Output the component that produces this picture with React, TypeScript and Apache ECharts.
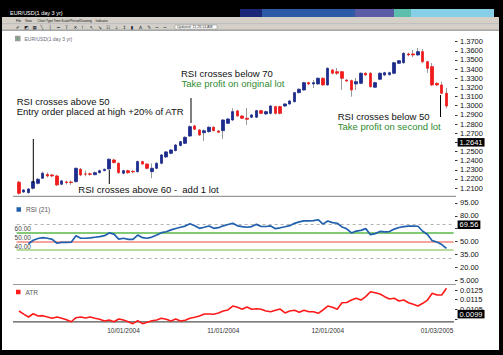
import React, { useEffect, useRef } from 'react';
import * as echarts from 'echarts';

const FONT = 'Liberation Sans, Arial, Helvetica, sans-serif';

// ---------- categories ----------
function weekdayLabels(y: number, m: number, d: number, n: number): string[] {
  const out: string[] = [];
  const dt = new Date(Date.UTC(y, m - 1, d));
  while (out.length < n) {
    const wd = dt.getUTCDay();
    if (wd !== 0 && wd !== 6) {
      const mm = String(dt.getUTCMonth() + 1).padStart(2, '0');
      const dd = String(dt.getUTCDate()).padStart(2, '0');
      out.push(`${mm}/${dd}/${dt.getUTCFullYear()}`);
    }
    dt.setUTCDate(dt.getUTCDate() + 1);
  }
  return out;
}
const dates = weekdayLabels(2004, 9, 1, 92);
const xTickLabels = ['10/01/2004', '11/01/2004', '12/01/2004', '01/03/2005'];

// ---------- price (EUR/USD) ----------
const opens = [
  1.2164, 1.2057, 1.2050, 1.2098, 1.2152, 1.2207, 1.2249, 1.2243, 1.2232, 1.2142,
  1.2167, 1.2166, 1.2170, 1.2305, 1.2255, 1.2256, 1.2246, 1.2268, 1.2290, 1.2309,
  1.2407, 1.2371, 1.2262, 1.2290, 1.2282, 1.2279, 1.2389, 1.2363, 1.2279, 1.2316,
  1.2371, 1.2440, 1.2480, 1.2510, 1.2565, 1.2589, 1.2669, 1.2779, 1.2735, 1.2705,
  1.2717, 1.2765, 1.2724, 1.2727, 1.2808, 1.2844, 1.2943, 1.2888, 1.2863, 1.2874,
  1.2874, 1.2946, 1.2910, 1.2917, 1.2990, 1.2990, 1.2997, 1.3019, 1.3044, 1.3143,
  1.3172, 1.3252, 1.3238, 1.3238, 1.3300, 1.3227, 1.3391, 1.3372, 1.3372, 1.3281,
  1.3274, 1.3238, 1.3245, 1.3355, 1.3355, 1.3202, 1.3289, 1.3336, 1.3340, 1.3355,
  1.3464, 1.3470, 1.3566, 1.3566, 1.3555, 1.3591, 1.3481, 1.3427, 1.3245, 1.3227,
  1.3136,
];
const closes = [
  1.2043, 1.2079, 1.2090, 1.2170, 1.2196, 1.2262, 1.2232, 1.2232, 1.2134, 1.2178,
  1.2160, 1.2160, 1.2316, 1.2243, 1.2252, 1.2250, 1.2268, 1.2290, 1.2305, 1.2415,
  1.2378, 1.2268, 1.2290, 1.2268, 1.2277, 1.2389, 1.2363, 1.2316, 1.2316, 1.2371,
  1.2462, 1.2495, 1.2516, 1.2571, 1.2607, 1.2655, 1.2771, 1.2743, 1.2680, 1.2727,
  1.2765, 1.2727, 1.2710, 1.2844, 1.2855, 1.2935, 1.2888, 1.2863, 1.2852, 1.2899,
  1.2946, 1.2917, 1.2935, 1.2997, 1.2917, 1.2917, 1.3019, 1.3052, 1.3143, 1.3180,
  1.3252, 1.3238, 1.3252, 1.3300, 1.3227, 1.3409, 1.3355, 1.3355, 1.3300, 1.3270,
  1.3172, 1.3263, 1.3355, 1.3336, 1.3208, 1.3252, 1.3355, 1.3361, 1.3361, 1.3470,
  1.3492, 1.3573, 1.3555, 1.3555, 1.3591, 1.3481, 1.3409, 1.3227, 1.3227, 1.3136,
  1.2997,
];
const lows = [
  1.2028, 1.2045, 1.2040, 1.2085, 1.2140, 1.2200, 1.2215, 1.2220, 1.2125, 1.2130,
  1.2140, 1.2135, 1.2160, 1.2230, 1.2230, 1.2235, 1.2240, 1.2260, 1.2285, 1.2300,
  1.2370, 1.2255, 1.2250, 1.2255, 1.2260, 1.2270, 1.2355, 1.2305, 1.2207, 1.2305,
  1.2360, 1.2430, 1.2470, 1.2500, 1.2555, 1.2580, 1.2660, 1.2735, 1.2670, 1.2615,
  1.2705, 1.2720, 1.2700, 1.2637, 1.2800, 1.2835, 1.2880, 1.2855, 1.2790, 1.2865,
  1.2865, 1.2910, 1.2900, 1.2905, 1.2905, 1.2905, 1.2985, 1.3010, 1.3035, 1.3135,
  1.3165, 1.3225, 1.3194, 1.3230, 1.3220, 1.3220, 1.3345, 1.3336, 1.3172, 1.3260,
  1.3099, 1.3172, 1.3235, 1.3325, 1.3200, 1.3195, 1.3280, 1.3325, 1.3330, 1.3345,
  1.3455, 1.3460, 1.3540, 1.3533, 1.3545, 1.3467, 1.3358, 1.3215, 1.3215, 1.3125,
  1.2972,
];
const highs = [
  1.2180, 1.2090, 1.2100, 1.2180, 1.2210, 1.2280, 1.2270, 1.2255, 1.2245, 1.2190,
  1.2180, 1.2185, 1.2325, 1.2320, 1.2290, 1.2270, 1.2280, 1.2300, 1.2312, 1.2425,
  1.2420, 1.2380, 1.2300, 1.2300, 1.2300, 1.2400, 1.2398, 1.2370, 1.2370, 1.2380,
  1.2470, 1.2505, 1.2525, 1.2580, 1.2615, 1.2665, 1.2785, 1.2790, 1.2745, 1.2740,
  1.2775, 1.2775, 1.2735, 1.2855, 1.2865, 1.2972, 1.2955, 1.2895, 1.2975, 1.2910,
  1.2955, 1.2955, 1.2945, 1.3008, 1.3000, 1.3000, 1.3030, 1.3060, 1.3150, 1.3190,
  1.3262, 1.3262, 1.3281, 1.3310, 1.3310, 1.3420, 1.3400, 1.3413, 1.3380, 1.3290,
  1.3285, 1.3303, 1.3365, 1.3365, 1.3365, 1.3262, 1.3365, 1.3370, 1.3372, 1.3480,
  1.3500, 1.3585, 1.3580, 1.3609, 1.3631, 1.3620, 1.3490, 1.3467, 1.3255, 1.3263,
  1.3194,
];
const priceLabels = [1.21, 1.22, 1.23, 1.24, 1.25, 1.27, 1.28, 1.29, 1.3, 1.31, 1.32, 1.33, 1.34, 1.35, 1.36, 1.37];
const priceTickMarks = [1.21, 1.22, 1.23, 1.24, 1.25, 1.26, 1.27, 1.28, 1.29, 1.3, 1.31, 1.32, 1.33, 1.34, 1.35, 1.36, 1.37];
const priceCursor = 1.2641;

// ---------- RSI (21) ----------
const rsi = [
  null, null, 47.5, 51.5, 53.5, 54.5, 53.8, 52.6, 48.0, 49.1,
  49.1, 49.2, 56.8, 53.8, 53.8, 54.2, 55.0, 55.8, 56.8, 60.0,
  58.6, 52.9, 53.8, 52.6, 52.6, 57.6, 54.5, 53.8, 55.2, 57.6,
  60.3, 61.4, 63.6, 65.2, 66.6, 68.0, 70.8, 68.4, 65.4, 66.6,
  68.1, 65.4, 66.1, 68.3, 69.8, 71.2, 68.3, 67.3, 66.6, 67.4,
  70.0, 67.5, 67.5, 68.2, 65.0, 66.0, 67.2, 68.5, 71.2, 72.9,
  74.0, 74.0, 74.3, 75.4, 70.3, 73.9, 72.0, 71.3, 67.0, 64.8,
  60.0, 62.2, 63.0, 65.0, 58.0, 59.2, 61.8, 61.2, 61.6, 64.5,
  66.3, 67.4, 68.0, 68.0, 67.8, 62.0, 58.2, 51.0, 49.5, 46.5,
  42.0,
];
const rsiLabels = [5, 20, 35, 50, 80, 95];
const rsiTickMarks = [5, 20, 35, 50, 65, 80, 95];
const rsiDashLevels = [70, 30];
const rsiBandLevels = [60, 50, 40];
const rsiCursor = 69.56;

// ---------- ATR ----------
const atr = [
  0.01032, 0.01000, 0.00970, 0.01004, 0.00981, 0.00984, 0.00970, 0.00957, 0.00970, 0.00957,
  0.00942, 0.00921, 0.00963, 0.00970, 0.00960, 0.00970, 0.00957, 0.00946, 0.00929, 0.00939,
  0.00921, 0.00949, 0.00939, 0.00921, 0.00901, 0.00932, 0.00901, 0.00915, 0.00932, 0.00939,
  0.00957, 0.00946, 0.00929, 0.00949, 0.00929, 0.00936, 0.00957, 0.00967, 0.00981, 0.01001,
  0.01001, 0.00998, 0.01012, 0.01032, 0.01043, 0.01084, 0.01071, 0.01050, 0.01074, 0.01050,
  0.01056, 0.01050, 0.01032, 0.01025, 0.01040, 0.01053, 0.01012, 0.01032, 0.01040, 0.01019,
  0.01040, 0.01025, 0.01025, 0.01008, 0.01043, 0.01084, 0.01071, 0.01050, 0.01118, 0.01121,
  0.01146, 0.01164, 0.01146, 0.01181, 0.01232, 0.01222, 0.01209, 0.01181, 0.01157, 0.01164,
  0.01136, 0.01146, 0.01118, 0.01102, 0.01084, 0.01112, 0.01146, 0.01216, 0.01198, 0.01198,
  0.01268,
];
const atrLabels = [0.0105, 0.0115, 0.0125];
const atrTickMarks = [0.0095, 0.0105, 0.0115, 0.0125];
const atrCursor = 0.0099;
const atrCursorAt = 0.00931;

// ---------- texts ----------
const menuItems = ['File', 'View', 'Chart Type', 'Time Scale/Period', 'Drawing', 'Indicator'];
const menuX = [16, 25, 37.5, 53.5, 80, 95.5];
const toolGlyphs = ['✔', '◩', '▦', '╲', '│', '━', 'T', '✕', '!', '↖', '↘', '☷', '⊥', '↕', '▮', 'A', '✎', '═', '═'];

const BLUE = '#1d2c8c';
const RED = '#f01c1c';
const WICK = '#9a9a9a';
const GREEN_TXT = '#2f8c2f';
const HIDDEN_LINE = { color: 'rgba(0,0,0,0)', width: 0.01, type: 'solid' };

export default function App() {
  const ref = useRef<HTMLDivElement>(null);

  useEffect(() => {
    if (!ref.current) return;
    const chart = echarts.init(ref.current, undefined, { renderer: 'svg' });

    const full = opens.map((o, i) => [o, closes[i], lows[i], highs[i]]);
    const body = opens.map((o, i) => [o, closes[i], Math.min(o, closes[i]), Math.max(o, closes[i])]);

    const cursorLabel = (text: string) => ({
      show: true,
      position: 'end',
      distance: 4,
      formatter: text,
      backgroundColor: '#000',
      color: '#fff',
      padding: [1, 2, 0, 2],
      fontSize: 7.5,
      lineHeight: 7.5,
      fontFamily: FONT,
      opacity: 1,
    });

    const yAxisOf = (grid: number, min: number, max: number, labels: number[], ticks: number[], fmt: (v: number) => string) => ({
      type: 'value',
      gridIndex: grid,
      min,
      max,
      position: 'right',
      offset: 1.4,
      splitLine: { show: false },
      axisLine: { show: false },
      axisTick: { show: true, length: 2.5, customValues: ticks, lineStyle: { color: '#333', width: 1 } },
      axisLabel: { show: true, customValues: labels, formatter: fmt, fontSize: 7.5, lineHeight: 8, color: '#111', margin: 5, fontFamily: FONT },
    });

    const hline = (x1: number, x2: number, y: number, color: string, w = 1) => ({
      type: 'line',
      shape: { x1, y1: y, x2, y2: y },
      style: { stroke: color, lineWidth: w },
      silent: true,
    });
    const vline = (x: number, y1: number, y2: number) => ({
      type: 'line',
      shape: { x1: x, y1, x2: x, y2 },
      style: { stroke: '#000', lineWidth: 1 },
      silent: true,
      z: 20,
    });
    const note = (x: number, y: number, text: string, fill = '#111') => ({
      type: 'text',
      x,
      y,
      z: 20,
      silent: true,
      style: { text, fill, fontSize: 9.5, fontFamily: FONT, verticalAlign: 'middle', align: 'left' },
    });

    const graphic: any[] = [
      { type: 'rect', shape: { x: 0, y: 0, width: 503, height: 355 }, style: { fill: '#000' }, z: -10, silent: true },
      { type: 'rect', shape: { x: 2, y: 17, width: 497, height: 333 }, style: { fill: '#fff' }, z: -9, silent: true },
      { type: 'rect', shape: { x: 240, y: 9, width: 22, height: 8 }, style: { fill: '#1b2878' }, silent: true },
      { type: 'rect', shape: { x: 262, y: 9, width: 93, height: 8 }, style: { fill: '#2d5aa6' }, silent: true },
      { type: 'rect', shape: { x: 355, y: 9, width: 39, height: 8 }, style: { fill: '#5b5ba6' }, silent: true },
      { type: 'rect', shape: { x: 394, y: 9, width: 17, height: 8 }, style: { fill: '#5cbfae' }, silent: true },
      { type: 'rect', shape: { x: 411, y: 9, width: 83, height: 8 }, style: { fill: '#86cfe6' }, silent: true },
      { type: 'text', x: 10, y: 13, silent: true, style: { text: 'EUR/USD(1 day 3 yr)', fill: '#fff', fontSize: 5.5, fontFamily: FONT, verticalAlign: 'middle' } },
      { type: 'rect', shape: { x: 2, y: 17, width: 497, height: 6.5 }, style: { fill: '#d4d0c8' }, silent: true },
      { type: 'rect', shape: { x: 2, y: 23.5, width: 497, height: 1 }, style: { fill: '#9a9a9a' }, silent: true },
      { type: 'rect', shape: { x: 2, y: 24.5, width: 497, height: 5 }, style: { fill: '#d4d0c8' }, silent: true },
      { type: 'rect', shape: { x: 2, y: 29.5, width: 497, height: 1.3 }, style: { fill: '#8a8a8a' }, silent: true },
      ...menuItems.map((t, i) => ({
        type: 'text', x: menuX[i], y: 20.3, silent: true,
        style: { text: t, fill: '#111', fontSize: 3.2, fontFamily: FONT, verticalAlign: 'middle' },
      })),
      ...toolGlyphs.map((g, i) => ({
        type: 'text', x: 16 + i * 8.2, y: 27.1, silent: true,
        style: { text: g, fill: '#223', fontSize: 4.5, fontFamily: 'DejaVu Sans', verticalAlign: 'middle' },
      })),
      { type: 'rect', shape: { x: 175, y: 25, width: 42, height: 4 }, style: { fill: '#fff', stroke: '#888', lineWidth: 0.5 }, silent: true },
      { type: 'text', x: 177, y: 27.1, silent: true, style: { text: 'Updated: 11:26:14 AM', fill: '#333', fontSize: 3.6, fontFamily: FONT, verticalAlign: 'middle' } },
      hline(13, 456, 196.3, '#808080', 1),
      hline(13, 456, 284.5, '#9a9a9a', 1.2),
      hline(13, 454, 321.8, '#555', 1.2),
      note(16.7, 101.7, 'RSI crosses above 50'),
      note(16.7, 111.7, 'Entry order placed at high +20% of ATR'),
      vline(33.3, 139, 183),
      note(78.3, 189.3, 'RSI crosses above 60 -  add 1 lot'),
      vline(109.3, 170, 184),
      note(181, 73.3, 'RSI crosses below 70'),
      note(181.5, 83.3, 'Take profit on original lot', GREEN_TXT),
      vline(191, 98, 123),
      note(337.7, 116.7, 'RSI crosses below 50'),
      note(337.7, 126.2, 'Take profit on second lot', GREEN_TXT),
      vline(440.5, 95, 117),
    ];

    const rsiMarks: any[] = [
      ...rsiDashLevels.map((v) => ({
        yAxis: v,
        lineStyle: { color: '#b4b4b4', type: [3, 3], width: 1 },
        label: { show: false },
      })),
      ...rsiBandLevels.map((v, i) => ({
        yAxis: v,
        lineStyle: { color: ['#5ab84a', '#f2877e', '#a2d07e'][i], type: 'solid', width: 1.5 },
        label: {
          show: true,
          position: 'insideStartTop',
          distance: [-2, 0.5],
          formatter: v.toFixed(2),
          fontSize: 6.5,
          color: '#444',
          fontFamily: FONT,
        },
      })),
      { yAxis: rsiCursor, lineStyle: HIDDEN_LINE, label: cursorLabel(rsiCursor.toFixed(2)) },
    ];

    const option: any = {
      animation: false,
      textStyle: { fontFamily: FONT },
      graphic,
      grid: [
        { left: 16.6, top: 39.4, width: 437, height: 157.8, outerBoundsMode: 'none', containLabel: false },
        { left: 16.6, top: 196, width: 437, height: 88.5, outerBoundsMode: 'none', containLabel: false },
        { left: 16.6, top: 284.5, width: 437, height: 37.3, outerBoundsMode: 'none', containLabel: false },
      ],
      legend: [
        {
          data: [{ name: 'EUR/USD(1 day 3 yr)', icon: 'rect', itemStyle: { color: '#3cb043' } }],
          left: 15, top: 35.8, itemWidth: 3.5, itemHeight: 3.5, padding: 0, selectedMode: false,
          textStyle: { fontSize: 5, color: '#667', fontFamily: FONT },
        },
        {
          data: [{ name: 'RSI (21)', icon: 'rect' }],
          left: 16.5, top: 206, itemWidth: 4.5, itemHeight: 4.5, padding: 0, selectedMode: false,
          textStyle: { fontSize: 6.5, color: '#555', fontFamily: FONT },
        },
        {
          data: [{ name: 'ATR', icon: 'rect' }],
          left: 16, top: 288.5, itemWidth: 4.5, itemHeight: 4.5, padding: 0, selectedMode: false,
          textStyle: { fontSize: 6.5, color: '#555', fontFamily: FONT },
        },
      ],
      xAxis: [0, 1, 2].map((g) => ({
        type: 'category',
        gridIndex: g,
        data: dates,
        boundaryGap: true,
        axisLine: { show: false },
        axisTick: { show: false },
        splitLine: { show: false },
        axisLabel:
          g === 2
            ? {
                show: true,
                interval: (_i: number, v: string) => xTickLabels.includes(v),
                fontSize: 6.5,
                color: '#333',
                margin: 5,
                fontFamily: FONT,
              }
            : { show: false },
      })),
      yAxis: [
        yAxisOf(0, 1.2, 1.3725, priceLabels, priceTickMarks, (v) => v.toFixed(4)),
        yAxisOf(1, 0, 103, rsiLabels, rsiTickMarks, (v) => (v < 10 ? v.toFixed(3) : v.toFixed(2))),
        yAxisOf(2, 0.009205, 0.01307, atrLabels, atrTickMarks, (v) => v.toFixed(4)),
      ],
      series: [
        {
          name: 'EUR/USD(1 day 3 yr)',
          type: 'candlestick',
          xAxisIndex: 0,
          yAxisIndex: 0,
          data: full,
          barWidth: 1,
          z: 2,
          itemStyle: { color: WICK, color0: WICK, borderColor: WICK, borderColor0: WICK, borderWidth: 1 },
        },
        {
          name: 'body',
          type: 'candlestick',
          xAxisIndex: 0,
          yAxisIndex: 0,
          data: body,
          barWidth: 3,
          z: 3,
          itemStyle: { color: BLUE, color0: RED, borderColor: BLUE, borderColor0: RED, borderWidth: 0.8 },
          markLine: {
            silent: true,
            symbol: 'none',
            data: [{ yAxis: priceCursor, lineStyle: HIDDEN_LINE, label: cursorLabel(priceCursor.toFixed(4)) }],
          },
        },
        {
          name: 'RSI (21)',
          type: 'line',
          xAxisIndex: 1,
          yAxisIndex: 1,
          data: rsi,
          showSymbol: false,
          z: 6,
          color: '#2160ad',
          lineStyle: { color: '#2160ad', width: 1.7 },
          markLine: { silent: true, symbol: 'none', z: 1, data: rsiMarks },
        },
        {
          name: 'ATR',
          type: 'line',
          xAxisIndex: 2,
          yAxisIndex: 2,
          data: atr,
          showSymbol: false,
          clip: false,
          z: 6,
          color: '#ff1a1a',
          lineStyle: { color: '#ff1a1a', width: 1.6 },
          markLine: {
            silent: true,
            symbol: 'none',
            data: [{ yAxis: atrCursorAt, lineStyle: HIDDEN_LINE, label: cursorLabel(atrCursor.toFixed(4)) }],
          },
        },
      ],
    };

    chart.setOption(option);
    return () => chart.dispose();
  }, []);

  return (
    <div
      ref={ref}
      style={{ position: 'fixed', left: 0, top: 0, width: 503, height: 355, background: '#fff' }}
    />
  );
}
